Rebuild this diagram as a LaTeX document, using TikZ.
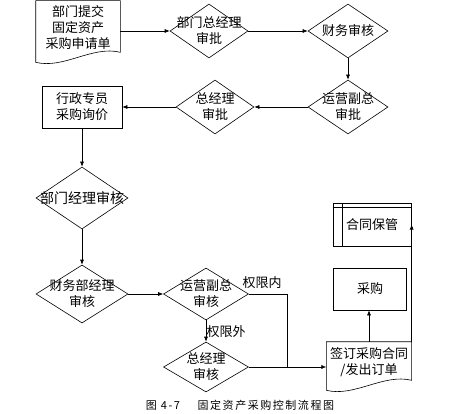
\documentclass[tikz,border=0pt]{standalone}
\usepackage{fontspec}
\setmainfont{Noto Sans CJK SC}
\usetikzlibrary{shapes.geometric,arrows.meta}
\begin{document}
\begin{tikzpicture}[x=1pt, y=-1pt, line width=0.6pt, >={Latex[length=5pt,width=4pt]},
  txt/.style={align=center, font=\fontsize{13}{16}\selectfont},
  dia/.style={diamond, draw, inner sep=0pt, minimum width=80pt, minimum height=54pt, label={[txt]center:#1}},
  box/.style={draw, txt, minimum width=80pt, minimum height=42pt},
  docnode/.style={txt, minimum width=84pt}]
\useasboundingbox (0,0) rectangle (460,414);
% top row
\node[docnode, minimum height=54pt] (req) at (78,28) {部门提交\\固定资产\\采购申请单};
\draw (req.north west) -- ([yshift=-7pt]req.south west) .. controls +(28,7) and +(-28,-7) .. ([yshift=3pt]req.south east) -- (req.north east) -- cycle;
\node[dia={部门总经理\\审批}, minimum width=78pt] (d1) at (209,31) {};
\node[dia={财务审核}] (d2) at (348,31) {};
\draw[->] (req.east |- d1.west) -- (d1.west);
\draw[->] (d1.east) -- (d2.west);
% second row
\node[dia={运营副总\\审批}] (d3) at (348,107) {};
\node[dia={总经理\\审批}, minimum width=78pt] (d4) at (215,107) {};
\node[box] (admin) at (82,107) {行政专员\\采购询价};
\draw[->] (d2.south) -- (d3.north);
\draw[->] (d3.west) -- (d4.east);
\draw[->] (d4.west) -- (admin.east);
% left column
\node[dia={\fontsize{14}{16}\selectfont 部门经理审核}, minimum width=92pt, minimum height=62pt] (d5) at (82,198) {};
\node[dia={财务部经理\\审核}, minimum width=92pt, minimum height=58pt] (d6) at (82,294) {};
\draw[->] (admin.south) -- (d5.north);
\draw[->] (d5.south) -- (d6.north);
% lower middle
\node[dia={运营副总\\审核}, minimum width=85pt, minimum height=52pt] (d7) at (206,294) {};
\node[dia={总经理\\审核}, minimum width=85pt, minimum height=50pt] (d8) at (206,367) {};
\node[txt] (inner) at (262,283) {权限内};
\node[txt] (outer) at (226,332) {权限外};
\draw[->] (d6.east) -- (d7.west);
\draw[->] (d7.south) -- (d8.north);
% right column
\node[docnode, minimum height=40pt] (sign) at (369,362) {签订采购合同\\/发出订单};
\draw (sign.north west) -- ([yshift=-8pt]sign.south west) .. controls +(28,7) and +(-28,-7) .. ([yshift=2pt]sign.south east) -- (sign.north east) -- cycle;
\node[box, minimum width=73pt] (buy) at (370,289) {采购};
\node[box, minimum width=78pt, minimum height=43pt] (store) at (372,224.5) {合同保管};
\draw ([xshift=10pt]store.north west) -- ([xshift=10pt]store.south west);
\draw ([yshift=-5pt]store.north west) -- ([yshift=-5pt]store.north east);
\coordinate (join) at (287,367);
\draw (d7.east) -| (join);
\draw[->] (d8.east) -- (d8.east -| sign.west);
\draw[->] (sign.north) -- (sign.north |- buy.south);
\draw[->] (sign.north east) -- (sign.north east |- store.east);
% caption
\node[font=\fontsize{11}{12}\selectfont\addfontfeature{LetterSpace=14}] (cap) at (240,405) {图 4-7\hspace{1.6em}固定资产采购控制流程图};
\end{tikzpicture}
\end{document}
